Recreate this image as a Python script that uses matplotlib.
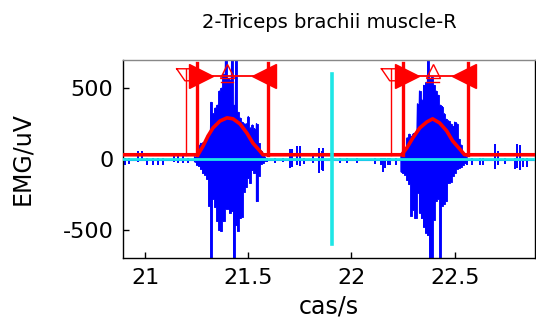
import numpy as np
import matplotlib
matplotlib.use("Agg")
import matplotlib.pyplot as plt

# ---------------- data ----------------
title = "2-Triceps brachii muscle-R"
xlabel = "cas/s"
ylabel = "EMG/uV"
xticks = [21, 21.5, 22, 22.5]
xticklabels = ["21", "21.5", "22", "22.5"]
yticks = [-500, 0, 500]
yticklabels = ["-500", "0", "500"]

# burst 1 EMG (max / min per sample)
b1_t = [21.24, 21.25, 21.26, 21.27, 21.28, 21.29, 21.30, 21.31, 21.32, 21.33, 21.34, 21.35,
        21.36, 21.37, 21.38, 21.39, 21.40, 21.41, 21.42, 21.43, 21.44, 21.45, 21.46, 21.47,
        21.48, 21.49, 21.50, 21.51, 21.52, 21.53, 21.54, 21.55, 21.56, 21.57, 21.58]
b1_hi = [15, 25, 100, 110, 115, 120, 160, 170, 400, 320, 360, 380, 480, 500, 600, 720, 570,
         560, 720, 380, 720, 330, 290, 260, 250, 250, 300, 220, 240, 215, 250, 110, 60, 40, 15]
b1_lo = [-20, -40, -50, -70, -100, -110, -140, -330, -720, -280, -340, -440, -500, -510, -440,
         -350, -350, -380, -370, -720, -470, -510, -420, -410, -230, -200, -135, -170, -80,
         -100, -300, -120, -35, -25, -15]

# burst 2 EMG
b2_t = [22.24, 22.25, 22.26, 22.27, 22.28, 22.29, 22.30, 22.31, 22.32, 22.33, 22.34, 22.35,
        22.36, 22.37, 22.38, 22.39, 22.40, 22.41, 22.42, 22.43, 22.44, 22.45, 22.46, 22.47,
        22.48, 22.49, 22.50, 22.51, 22.52, 22.53, 22.54, 22.55, 22.56]
b2_hi = [20, 30, 80, 150, 175, 160, 180, 170, 390, 480, 420, 520, 540, 720, 570, 580, 520,
         480, 450, 380, 370, 320, 280, 270, 250, 230, 260, 250, 140, 100, 40, 20, 10]
b2_lo = [-90, -100, -110, -150, -180, -400, -360, -420, -240, -380, -420, -480, -520, -540,
         -720, -720, -430, -300, -280, -720, -330, -320, -300, -170, -160, -120, -100, -70,
         -65, -60, -40, -30, -20]

# isolated small spikes outside the bursts
sp_t = [20.903, 20.923, 20.966, 20.985, 21.010, 21.039, 21.063, 21.087, 21.140, 21.160,
        21.184, 21.208, 21.590, 21.629, 21.668, 21.701, 21.711, 21.735, 21.750, 21.769,
        21.813, 21.842, 21.856, 21.861, 21.943, 21.977, 22.026, 22.113, 22.142, 22.151,
        22.161, 22.176, 22.185, 22.214, 22.558, 22.582, 22.621, 22.635, 22.693, 22.708,
        22.742, 22.790, 22.800, 22.814, 22.829, 22.848]
sp_hi = [10, 5, 55, 55, 5, 5, 5, 5, 40, 40, 35, 5, 5, 5, 5, 70, 70, 90, 90, 5, 20, 80, 60,
         78, 5, 5, 5, 5, 5, 5, 5, 5, 5, 5, 5, 5, 5, 5, 105, 60, 5, 5, 105, 100, 5, 5]
sp_lo = [-40, -35, -20, -15, -45, -40, -45, -40, -20, -25, -30, -30, -20, -25, -20, -65,
         -60, -45, -50, -35, -25, -100, -75, -85, -25, -25, -25, -35, -40, -90, -65, -45,
         -45, -40, -40, -45, -40, -45, -70, -45, -35, -70, -65, -80, -60, -55]

# red envelope
baseline = 30
env1_t = [21.256, 21.281, 21.305, 21.329, 21.363, 21.397, 21.426, 21.460, 21.493, 21.522, 21.556, 21.571]
env1_v = [30, 92, 163, 220, 269, 291, 284, 248, 184, 113, 57, 30]
env2_t = [22.243, 22.268, 22.297, 22.331, 22.365, 22.393, 22.427, 22.461, 22.490, 22.524, 22.548]
env2_v = [30, 78, 149, 220, 262, 284, 255, 199, 128, 71, 30]

# event markers
onset_t = [21.252, 22.248]
offset_t = [21.595, 22.563]
thin_t = [21.198, 22.190]
peak_t = [21.397, 22.393]
marker_top = 680
marker_level = 590
thin_top = 638
thin_low = 553

# cyan cursor
cursor_t = 21.905
cursor_lim = [-600, 600]

xlim = (20.893, 22.889)
ylim = (-700, 700)

# ---------------- plot ----------------
plt.rcParams['font.family'] = ['DejaVu Sans']
fig = plt.figure(figsize=(5.36, 3.25), dpi=100)
ax = fig.add_axes([123 / 536, 1 - 258 / 325, 412 / 536, 198 / 325])

blue = '#0000ff'
red = '#ff0000'
cyan = '#1ee6e6'

# EMG bursts: filled between per-sample max and min, plus the trace itself
for t, hi, lo in [(b1_t, b1_hi, b1_lo), (b2_t, b2_hi, b2_lo)]:
    ta = np.asarray(t, float)
    ax.fill_between(ta, lo, hi, step='mid', color=blue, lw=0.6, zorder=2)
    xs = np.repeat(ta, 2)
    ys = np.empty(2 * len(t))
    ys[0::2] = hi
    ys[1::2] = lo
    ax.plot(xs, ys, color=blue, lw=1.0, zorder=2)
ax.vlines(sp_t, sp_lo, sp_hi, color=blue, lw=1.4, zorder=2)
ax.plot(list(xlim), [-8, -8], color=blue, lw=1.5, zorder=2)

# red envelope and baseline
red_t = [xlim[0]] + env1_t + env2_t + [xlim[1]]
red_v = [baseline] + env1_v + env2_v + [baseline]
ax.plot(red_t, red_v, color=red, lw=2.6, zorder=3, solid_joinstyle='round')

# event markers
for on, off, th, pk in zip(onset_t, offset_t, thin_t, peak_t):
    ax.plot([on, on], [baseline, marker_top], color=red, lw=2.4, zorder=4)
    ax.plot([off, off], [baseline, marker_top], color=red, lw=2.4, zorder=4)
    ax.plot([th, th], [baseline, thin_top], color=red, lw=1.0, zorder=4)
    ax.plot([th - 0.045, on, on, th - 0.005, th - 0.045],
            [thin_top, thin_top, thin_low, thin_low, thin_top], color=red, lw=1.0, zorder=4)
    ax.plot([on, off], [marker_level, marker_level], color=red, lw=1.3, zorder=4)
    ax.plot([on + 0.02], [marker_level], marker='>', ms=17, color=red, mec=red, zorder=5)
    ax.plot([off - 0.017], [marker_level], marker='<', ms=17, color=red, mec=red, zorder=5)
    ax.plot([pk], [620], marker='^', ms=10, mfc='none', mec=red, mew=1.0, zorder=5)
    ax.plot([pk - 0.03, pk + 0.03], [545, 545], color=red, lw=1.0, zorder=4)

# cyan lines
ax.axhline(0, color=cyan, lw=2.0, zorder=6)
ax.plot([cursor_t, cursor_t], cursor_lim, color=cyan, lw=2.6, zorder=6)

ax.set_xlim(*xlim)
ax.set_ylim(*ylim)
ax.set_xticks(xticks)
ax.set_xticklabels(xticklabels)
ax.set_yticks(yticks)
ax.set_yticklabels(yticklabels)
ax.tick_params(direction='in', length=4, width=1, labelsize=16, pad=7,
               top=False, right=False)
for s in ax.spines.values():
    s.set_linewidth(1.0)
    s.set_color('black')
ax.spines['top'].set_color('#888888')

ax.set_xlabel(xlabel, fontsize=17)
ax.xaxis.set_label_coords(0.5, -0.185)
ax.set_ylabel(ylabel, fontsize=17)
ax.yaxis.set_label_coords(-0.215, 0.5)
ax.text(0.5, 1.19, title, transform=ax.transAxes, ha='center', va='center', fontsize=14)

fig.savefig('out.png', dpi=100)
